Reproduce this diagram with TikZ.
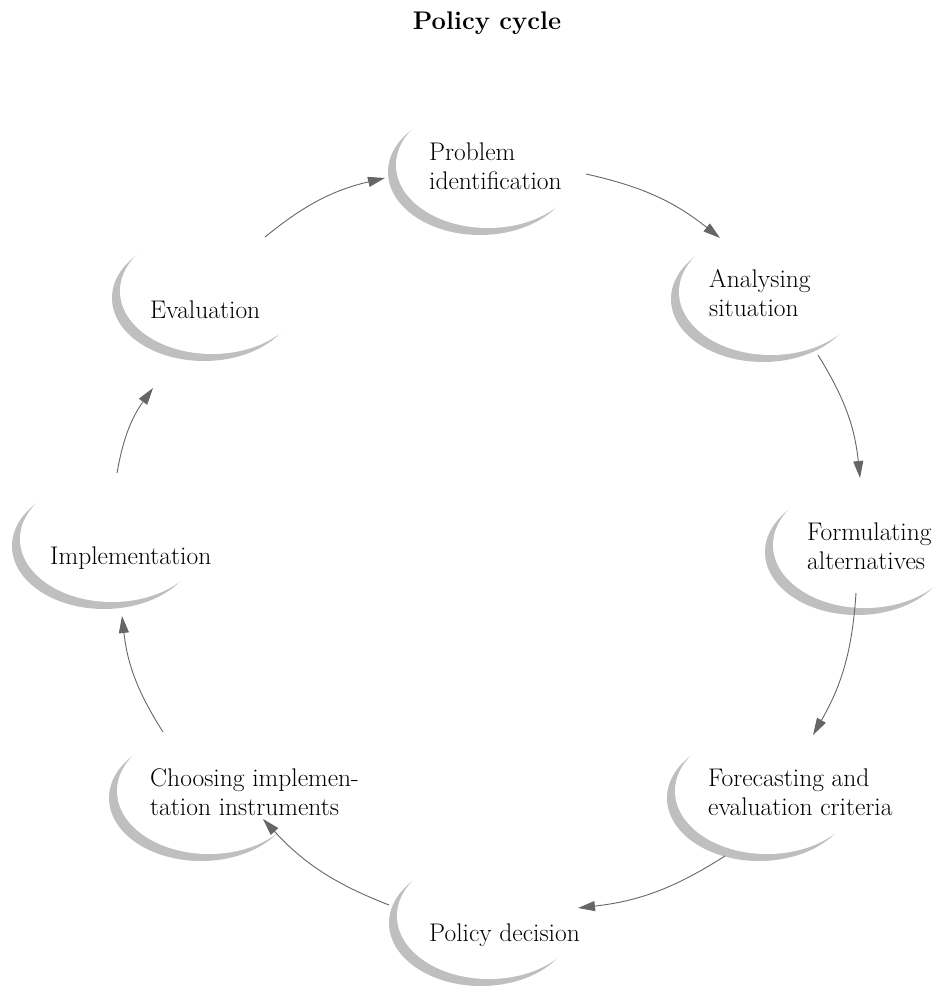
\documentclass[tikz,border=0pt]{standalone}
\usetikzlibrary{shapes.geometric,shadows,arrows.meta}
\begin{document}
\begin{tikzpicture}
  [x=1pt,y=-1pt,
   st/.style={ellipse,fill=white,inner sep=0pt,
      minimum width=184pt,minimum height=126pt,
      drop shadow={shadow xshift=-8pt,shadow yshift=-7pt,
        fill=black!25,opacity=1}},
   lbl/.style={anchor=west,align=left,inner sep=0pt,
      font=\fontsize{25.5}{29}\selectfont},
   arr/.style={draw=black!60,line width=0.9pt,
      -{Triangle[length=17pt,width=10pt]},bend left=13}]
  \useasboundingbox (0,0) rectangle (939,992);
  \node[font=\bfseries\fontsize{25.5}{30}\selectfont] (title) at (487,23) {Policy cycle};

  % stages
  \node[st] (pi) at (488,165) {};
  \node[st] (an) at (771,292) {};
  \node[st] (fo) at (865,545) {};
  \node[st] (fc) at (767,791) {};
  \node[st] (pd) at (489,916) {};
  \node[st] (ch) at (209,791) {};
  \node[st] (im) at (112,539) {};
  \node[st] (ev) at (212,291) {};

  \node[lbl] (pi-t) at ([shift={(-59,1)}]pi.center) {Problem\\identification};
  \node[lbl] (an-t) at ([shift={(-62,1)}]an.center) {Analysing\\situation};
  \node[lbl] (fo-t) at ([shift={(-58,1)}]fo.center) {Formulating\\alternatives};
  \node[lbl] (fc-t) at ([shift={(-59,1)}]fc.center) {Forecasting and\\evaluation criteria};
  \node[lbl] (pd-t) at ([shift={(-60,19)}]pd.center) {Policy decision};
  \node[lbl] (ch-t) at ([shift={(-59,1)}]ch.center) {Choosing implemen-\\tation instruments};
  \node[lbl] (im-t) at ([shift={(-62,19)}]im.center) {Implementation};
  \node[lbl] (ev-t) at ([shift={(-62,19)}]ev.center) {Evaluation};

  % cycle
  \draw[arr] ([shift={(53,-54)}]ev.center) to ([shift={(-103,13)}]pi.center);
  \draw[arr] ([shift={(98,9)}]pi.center) to ([shift={(-51,-54)}]an.center);
  \draw[arr] ([shift={(47,63)}]an.center) to ([shift={(-5,-67)}]fo.center);
  \draw[arr] ([shift={(-9,48)}]fo.center) to ([shift={(46,-56)}]fc.center);
  \draw[arr] ([shift={(-42,65)}]fc.center) to ([shift={(89,-8)}]pd.center);
  \draw[arr] ([shift={(-100,-11)}]pd.center) to ([shift={(54,28)}]ch.center);
  \draw[arr] ([shift={(-46,-59)}]ch.center) to ([shift={(10,77)}]im.center);
  \draw[arr] ([shift={(5,-66)}]im.center) to ([shift={(-59,97)}]ev.center);
\end{tikzpicture}
\end{document}
